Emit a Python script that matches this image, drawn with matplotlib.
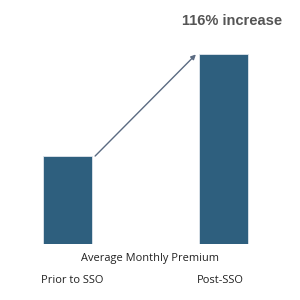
import matplotlib
matplotlib.use("Agg")
import matplotlib.pyplot as plt
import matplotlib.transforms as mtransforms

categories = ["Prior to SSO", "Post-SSO"]
values = [1.0, 2.16]
annotation = "116% increase"
metric_label = "Average Monthly Premium"

bar_color = "#2e5f7e"
arrow_color = "#5b6b82"
text_color = "#222222"

fig = plt.figure(figsize=(3, 3), dpi=100)
ax = fig.add_axes([5.1 / 300, 56 / 300, 280.8 / 300, 219.9 / 300])
w = 0.314
x = list(range(len(categories)))
ax.bar(x, values, width=w, color=bar_color, edgecolor="#dfe6ec", linewidth=0.6)
ax.set_xlim(-0.4, 1.4)
ax.set_ylim(0, 2.5)
for s in ax.spines.values():
    s.set_visible(False)
ax.set_yticks([])
ax.set_xticks(x)
ax.set_xticklabels(categories, fontsize=8, color=text_color, family="Open Sans")
ax.tick_params(axis="x", length=0, pad=22)
offset = mtransforms.ScaledTranslation(-w / 2 * 1.56 - 0.02, 0, fig.dpi_scale_trans)
for lab in ax.get_xticklabels():
    lab.set_ha("left")
    lab.set_transform(lab.get_transform() + offset)

ax.text((150 - 5.1) / 280.8, -15 / 219.9, metric_label, transform=ax.transAxes, ha="center", va="center",
        fontsize=7.9, color=text_color, family="Open Sans")

ax.annotate("", xy=(x[1] - w / 2 - 0.02, values[1] - 0.005), xytext=(x[0] + w / 2 + 0.02, values[0]),
            arrowprops=dict(arrowstyle="-|>", color=arrow_color, lw=1.0, mutation_scale=7,
                            shrinkA=0, shrinkB=0))

ax.text(1.054, 2.535, annotation, ha="center", va="center", fontsize=10.5, fontweight="bold",
        color="#555555", family="Liberation Sans")

fig.savefig("out.png", dpi=100, facecolor="white")
